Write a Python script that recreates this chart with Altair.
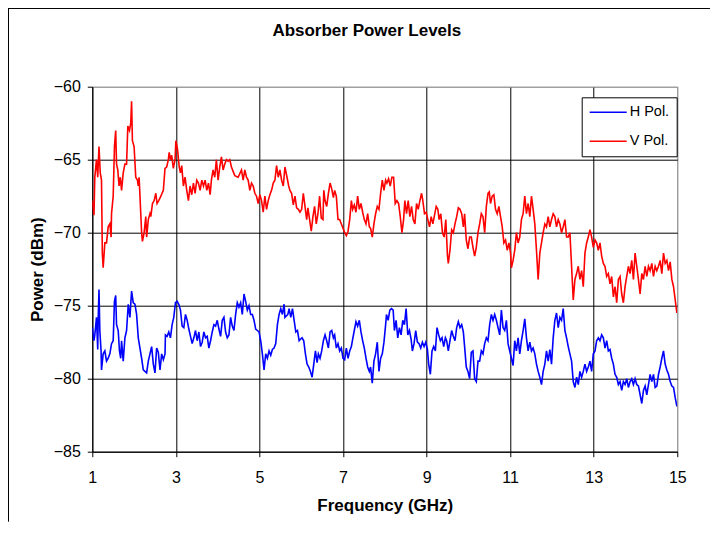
import altair as alt
import pandas as pd

# ---------------- data (frequency GHz, power dBm) ----------------
V_POL_A = [(1.00,-67.8),(1.04,-68.8),(1.06,-66.2),(1.10,-65.0),(1.13,-66.2),(1.16,-64.1),(1.19,-65.9),(1.22,-66.4),(1.24,-71.4),(1.26,-72.4),(1.30,-70.7),(1.34,-70.7),(1.38,-69.6),(1.42,-69.4),(1.45,-70.3),(1.46,-68.7),(1.50,-67.5),(1.53,-64.1),(1.56,-63.0),(1.58,-65.3),(1.61,-65.7),(1.64,-66.8),(1.67,-66.2),(1.70,-67.1),(1.74,-65.9),(1.78,-65.3),(1.82,-65.3),(1.85,-62.7),(1.89,-63.0),(1.92,-62.5),(1.94,-61.0),(1.96,-63.7),(2.00,-64.1),(2.04,-66.2),(2.08,-66.4),(2.10,-66.8),(2.12,-66.2),(2.16,-68.7),(2.18,-70.0),(2.20,-70.6),(2.24,-70.0),(2.28,-68.9),(2.30,-70.3),(2.34,-69.1),(2.38,-68.7),(2.40,-68.9),(2.44,-68.0),(2.48,-67.8),(2.52,-67.3),(2.55,-68.0),(2.59,-67.8),(2.64,-67.5),(2.70,-67.1),(2.74,-65.6),(2.78,-65.5),(2.82,-65.0),(2.84,-64.5),(2.87,-65.0),(2.90,-64.7),(2.94,-65.6),(2.98,-65.0),(3.00,-63.7),(3.04,-64.3),(3.08,-65.5),(3.11,-65.9),(3.14,-65.4),(3.18,-66.8),(3.22,-66.2),(3.26,-67.1),(3.30,-67.8),(3.34,-66.8),(3.38,-67.4),(3.42,-66.6),(3.46,-67.3),(3.50,-66.4),(3.54,-66.6),(3.58,-67.1),(3.62,-66.4),(3.66,-66.8),(3.70,-66.4),(3.74,-67.1),(3.78,-66.6),(3.82,-67.4),(3.85,-66.4),(3.89,-65.7),(3.93,-66.2),(3.97,-65.0),(4.01,-66.4),(4.05,-65.5),(4.09,-64.8),(4.13,-65.7),(4.17,-65.3),(4.21,-65.0),(4.25,-65.1),(4.29,-65.0),(4.33,-65.5),(4.37,-65.8),(4.41,-66.1),(4.49,-66.2),(4.57,-65.7),(4.61,-66.4),(4.65,-65.7),(4.69,-66.2),(4.73,-66.4),(4.77,-67.1),(4.81,-66.6),(4.85,-66.8),(4.89,-67.3),(4.93,-67.5),(4.97,-68.0),(5.01,-67.4),(5.05,-67.8),(5.09,-68.6),(5.13,-67.5),(5.17,-68.4),(5.21,-67.8),(5.25,-67.4),(5.29,-67.1),(5.33,-66.6),(5.37,-66.4),(5.41,-65.4),(5.45,-66.2),(5.49,-65.7),(5.53,-66.4),(5.57,-66.8),(5.61,-65.5)]
V_POL_B = [(5.66,-66.2),(5.70,-66.8),(5.73,-67.1),(5.77,-67.3),(5.81,-68.1),(5.85,-67.5),(5.89,-68.3),(5.93,-68.4),(5.97,-68.6),(6.01,-68.4),(6.05,-67.3),(6.09,-68.2),(6.13,-69.1),(6.16,-68.3),(6.20,-69.1),(6.24,-69.9),(6.28,-68.9),(6.32,-68.2),(6.36,-69.4),(6.40,-68.7),(6.44,-67.5),(6.48,-69.0),(6.52,-69.1),(6.54,-67.1),(6.57,-67.8),(6.61,-68.2),(6.65,-67.3),(6.69,-66.6),(6.73,-67.0),(6.77,-67.6),(6.80,-67.1),(6.84,-67.5),(6.88,-69.1),(6.92,-69.1),(6.96,-69.4),(7.00,-69.7),(7.04,-70.0),(7.08,-70.2),(7.12,-69.9),(7.16,-69.1),(7.20,-67.8),(7.23,-68.4),(7.27,-68.1),(7.31,-68.6),(7.35,-67.5),(7.39,-68.4),(7.43,-68.0),(7.47,-68.6),(7.51,-69.1),(7.55,-69.4),(7.59,-68.7),(7.63,-69.6),(7.66,-69.7),(7.70,-70.3),(7.74,-69.4),(7.78,-68.7),(7.82,-68.2),(7.86,-68.4),(7.90,-67.3),(7.94,-66.4),(7.98,-67.1),(8.02,-66.4),(8.05,-66.6),(8.09,-66.3),(8.13,-66.8),(8.17,-66.2),(8.21,-66.2),(8.25,-68.0),(8.29,-67.8),(8.33,-68.0),(8.37,-68.9),(8.41,-70.0),(8.45,-69.1),(8.48,-67.8),(8.52,-68.7),(8.56,-67.8),(8.60,-68.9),(8.64,-68.2),(8.68,-69.1),(8.72,-69.4),(8.76,-68.0),(8.80,-68.4),(8.84,-67.8),(8.88,-67.3),(8.91,-67.8),(8.95,-68.7),(8.99,-68.6),(9.03,-69.1),(9.07,-69.6),(9.11,-68.9),(9.15,-69.4),(9.19,-68.8),(9.23,-68.2),(9.27,-68.4),(9.30,-69.1),(9.34,-68.7),(9.38,-70.0),(9.42,-70.3),(9.46,-69.1),(9.50,-71.6),(9.52,-72.1),(9.56,-71.2),(9.60,-69.8),(9.64,-70.0),(9.68,-69.4),(9.72,-68.9),(9.76,-68.3),(9.80,-68.4),(9.84,-68.7),(9.88,-69.6),(9.91,-68.7),(9.95,-70.5),(9.99,-71.1),(10.03,-70.3),(10.07,-70.3),(10.11,-71.0),(10.15,-71.6),(10.19,-71.0),(10.23,-70.0)]
V_POL_C = [(10.27,-69.4),(10.31,-68.7),(10.35,-68.9),(10.39,-70.0),(10.43,-68.2),(10.47,-67.3),(10.50,-67.2),(10.53,-68.0),(10.57,-67.5),(10.61,-67.4),(10.65,-68.4),(10.69,-68.7),(10.73,-68.2),(10.77,-68.9),(10.81,-69.6),(10.85,-70.7),(10.89,-70.5),(10.93,-71.2),(10.97,-70.7),(11.01,-71.4),(11.03,-72.4),(11.07,-71.9),(11.11,-71.2),(11.15,-70.0),(11.19,-70.7),(11.23,-70.3),(11.27,-69.1),(11.31,-68.7),(11.35,-67.5),(11.39,-68.7),(11.43,-68.0),(11.47,-68.9),(11.51,-67.5),(11.55,-68.4),(11.59,-69.4),(11.63,-71.2),(11.67,-73.2),(11.71,-71.4),(11.75,-70.7),(11.79,-70.0),(11.83,-69.4),(11.87,-69.6),(11.91,-68.9),(11.95,-69.6),(11.99,-69.1),(12.03,-68.7),(12.07,-68.9),(12.11,-69.6),(12.15,-69.1),(12.19,-69.4),(12.23,-70.0),(12.27,-69.6),(12.31,-69.1),(12.35,-70.3),(12.39,-70.3),(12.43,-70.0),(12.47,-72.3),(12.51,-74.6),(12.55,-73.2),(12.59,-72.8),(12.63,-72.3),(12.67,-73.2),(12.71,-72.6),(12.75,-73.7),(12.79,-71.4),(12.83,-70.7),(12.87,-70.3),(12.91,-69.8),(12.95,-70.3),(12.99,-71.0),(13.03,-70.5),(13.07,-70.7),(13.11,-71.2),(13.15,-70.7),(13.19,-71.6),(13.23,-72.1),(13.27,-72.3),(13.31,-73.0),(13.35,-72.8),(13.39,-73.5),(13.43,-73.0),(13.47,-74.4),(13.51,-73.7),(13.55,-74.8),(13.59,-73.2),(13.63,-73.0),(13.67,-74.2),(13.71,-74.8),(13.75,-73.7),(13.79,-73.0),(13.83,-72.3),(13.87,-72.8),(13.91,-71.9),(13.95,-73.2),(13.99,-71.4),(14.03,-72.3),(14.07,-73.2),(14.11,-74.2),(14.15,-72.8),(14.19,-73.2),(14.23,-72.3),(14.27,-73.0),(14.31,-72.3),(14.35,-72.6),(14.39,-72.1),(14.43,-73.0),(14.47,-72.3),(14.51,-72.6),(14.55,-72.3),(14.59,-71.9),(14.63,-72.8),(14.67,-71.4),(14.71,-72.1),(14.75,-71.9),(14.79,-72.6),(14.83,-72.0),(14.87,-73.2),(14.91,-73.7),(14.95,-74.6),(14.99,-75.5)]

H_POL_A = [(1.00,-76.5),(1.04,-77.4),(1.06,-77.0),(1.10,-75.8),(1.13,-78.0),(1.14,-76.0),(1.16,-73.9),(1.18,-76.7),(1.21,-78.1),(1.22,-79.4),(1.26,-78.3),(1.30,-78.1),(1.34,-78.8),(1.38,-78.6),(1.42,-78.3),(1.46,-77.6),(1.50,-77.4),(1.53,-74.7),(1.56,-74.3),(1.58,-76.3),(1.62,-76.7),(1.65,-78.1),(1.68,-78.6),(1.70,-77.4),(1.74,-78.8),(1.78,-77.2),(1.82,-76.7),(1.86,-74.9),(1.90,-75.8),(1.94,-74.0),(1.98,-74.8),(2.02,-74.9),(2.06,-75.6),(2.10,-77.2),(2.14,-77.9),(2.18,-78.6),(2.22,-79.4),(2.26,-79.5),(2.30,-79.6),(2.34,-78.8),(2.38,-78.3),(2.42,-77.8),(2.46,-79.0),(2.50,-79.6),(2.54,-77.9),(2.58,-78.2),(2.62,-79.4),(2.66,-78.3),(2.70,-78.7),(2.74,-78.3),(2.75,-77.0),(2.79,-77.1),(2.83,-76.8),(2.87,-77.2),(2.91,-76.3),(2.95,-75.8),(2.99,-74.8),(3.03,-74.7),(3.07,-74.9),(3.11,-75.3),(3.15,-76.4),(3.19,-76.5),(3.23,-75.6),(3.27,-76.0),(3.31,-76.6),(3.35,-77.1),(3.39,-77.6),(3.43,-77.2),(3.47,-76.7),(3.51,-77.4),(3.55,-76.8),(3.59,-77.8),(3.63,-77.5),(3.67,-76.8),(3.71,-77.2),(3.75,-77.1),(3.79,-77.9),(3.83,-77.4),(3.87,-76.8),(3.91,-76.3),(3.95,-76.4),(3.99,-76.0),(4.03,-76.6),(4.07,-77.1),(4.11,-76.0),(4.15,-75.8),(4.19,-76.8),(4.23,-77.2),(4.27,-77.0),(4.31,-75.8),(4.35,-76.4),(4.39,-76.7),(4.43,-75.6),(4.47,-74.8),(4.51,-75.1),(4.55,-74.8),(4.59,-75.6),(4.63,-74.2),(4.67,-74.7),(4.71,-75.3),(4.75,-75.0),(4.79,-75.6),(4.83,-75.6),(4.87,-76.0),(4.91,-76.6),(4.95,-76.7),(4.99,-76.8),(5.03,-77.4),(5.07,-78.3),(5.11,-79.4),(5.15,-78.3),(5.19,-78.6),(5.23,-78.1),(5.27,-78.4),(5.31,-78.0),(5.35,-77.9),(5.39,-77.6),(5.43,-76.3),(5.47,-75.6),(5.51,-75.2),(5.55,-75.6),(5.59,-74.9),(5.61,-75.8)]
H_POL_B = [(5.68,-75.6),(5.71,-75.2),(5.75,-75.8),(5.79,-75.2),(5.83,-76.0),(5.87,-76.8),(5.91,-76.7),(5.95,-77.4),(5.98,-77.3),(6.02,-77.2),(6.06,-77.4),(6.10,-78.3),(6.14,-79.0),(6.18,-79.2),(6.22,-79.5),(6.26,-79.9),(6.30,-79.0),(6.34,-78.1),(6.38,-78.9),(6.41,-78.3),(6.45,-78.6),(6.49,-78.1),(6.53,-77.4),(6.57,-77.0),(6.61,-77.4),(6.65,-77.9),(6.69,-76.8),(6.73,-76.7),(6.77,-77.2),(6.80,-77.0),(6.84,-77.9),(6.88,-77.6),(6.92,-78.1),(6.96,-77.9),(7.00,-78.6),(7.04,-78.7),(7.08,-77.9),(7.12,-78.6),(7.16,-78.1),(7.20,-77.8),(7.23,-77.3),(7.27,-76.7),(7.31,-76.1),(7.35,-76.4),(7.39,-76.0),(7.43,-76.8),(7.47,-77.4),(7.51,-77.9),(7.55,-78.6),(7.59,-79.2),(7.63,-79.5),(7.66,-79.2),(7.70,-80.3),(7.74,-78.8),(7.78,-78.3),(7.82,-77.5),(7.86,-79.5),(7.90,-78.6),(7.94,-78.3),(7.98,-77.5),(8.02,-76.3),(8.04,-75.6),(8.08,-76.0),(8.12,-75.3),(8.16,-75.2),(8.20,-75.3),(8.23,-76.7),(8.27,-76.0),(8.31,-77.2),(8.35,-76.5),(8.39,-77.0),(8.43,-76.0),(8.47,-76.3),(8.51,-75.2),(8.55,-77.0),(8.59,-76.7),(8.63,-77.3),(8.66,-78.1),(8.70,-77.6),(8.74,-76.7),(8.78,-77.5),(8.82,-77.6),(8.86,-77.9),(8.90,-77.5),(8.94,-77.8),(8.98,-77.5),(9.02,-78.0),(9.05,-79.0),(9.09,-79.7),(9.13,-78.1),(9.17,-77.8),(9.21,-78.1),(9.25,-76.5),(9.29,-77.0),(9.33,-77.4),(9.37,-77.2),(9.41,-77.8),(9.45,-77.2),(9.48,-77.4),(9.52,-78.1),(9.56,-77.4),(9.60,-76.7),(9.64,-77.1),(9.68,-77.4),(9.72,-76.5),(9.76,-76.1),(9.80,-76.5),(9.84,-76.3),(9.88,-76.8),(9.91,-77.8),(9.95,-79.2),(9.99,-79.5),(10.03,-80.0),(10.07,-78.2),(10.11,-78.1),(10.15,-80.0),(10.19,-80.2),(10.23,-78.8)]
H_POL_C = [(10.27,-78.8),(10.31,-78.1),(10.35,-78.3),(10.39,-77.6),(10.43,-77.2),(10.47,-77.4),(10.51,-76.3),(10.55,-75.6),(10.59,-76.0),(10.63,-75.6),(10.67,-76.0),(10.71,-76.5),(10.75,-77.0),(10.79,-75.3),(10.83,-76.5),(10.87,-76.7),(10.91,-76.0),(10.95,-77.6),(10.99,-78.1),(11.03,-78.6),(11.07,-79.1),(11.11,-77.4),(11.15,-78.1),(11.19,-77.2),(11.23,-78.3),(11.27,-77.4),(11.31,-76.7),(11.35,-75.9),(11.39,-77.2),(11.43,-78.1),(11.47,-77.5),(11.51,-78.1),(11.55,-77.9),(11.59,-78.3),(11.63,-79.0),(11.67,-79.5),(11.71,-79.9),(11.75,-80.4),(11.79,-79.5),(11.83,-79.0),(11.87,-78.1),(11.91,-78.8),(11.95,-78.0),(11.99,-79.0),(12.03,-77.2),(12.07,-76.0),(12.11,-75.5),(12.15,-76.5),(12.19,-75.8),(12.23,-76.0),(12.27,-75.2),(12.31,-76.7),(12.35,-77.2),(12.39,-77.8),(12.43,-78.3),(12.47,-78.8),(12.51,-80.2),(12.55,-80.6),(12.59,-79.9),(12.63,-80.4),(12.67,-79.5),(12.71,-79.9),(12.75,-79.5),(12.79,-79.0),(12.83,-79.5),(12.87,-79.2),(12.91,-78.8),(12.95,-79.5),(12.99,-78.3),(13.03,-78.1),(13.07,-77.4),(13.11,-77.2),(13.15,-77.4),(13.19,-77.0),(13.23,-77.2),(13.27,-77.9),(13.31,-77.4),(13.35,-78.1),(13.39,-78.0),(13.43,-78.6),(13.47,-79.0),(13.51,-79.7),(13.55,-79.9),(13.59,-80.4),(13.63,-80.2),(13.67,-80.8),(13.71,-80.2),(13.75,-80.4),(13.79,-80.0),(13.83,-80.6),(13.87,-80.2),(13.91,-80.0),(13.95,-80.4),(13.99,-80.0),(14.03,-80.4),(14.07,-80.5),(14.11,-81.1),(14.15,-81.7),(14.19,-80.8),(14.23,-80.5),(14.27,-81.1),(14.31,-80.4),(14.35,-79.7),(14.39,-80.2),(14.43,-79.7),(14.47,-80.6),(14.51,-80.5),(14.55,-79.7),(14.59,-79.2),(14.63,-78.6),(14.67,-78.1),(14.71,-79.0),(14.75,-79.4),(14.79,-79.7),(14.83,-80.2),(14.87,-80.5),(14.91,-80.6),(14.95,-81.3),(14.99,-81.9)]

SERIES = ["H Pol.", "V Pol."]
COLORS = ["#0000FF", "#FF0000"]
X_TICKS = [1, 3, 5, 7, 9, 11, 13, 15]
Y_TICKS = [-85, -80, -75, -70, -65, -60]

rows = []
for name, segs in ((SERIES[0], [H_POL_A, H_POL_B, H_POL_C]),
                   (SERIES[1], [V_POL_A, V_POL_B, V_POL_C])):
    for seg in segs:
        for f, v in seg:
            rows.append({"freq": f, "dbm": v, "series": name})
df = pd.DataFrame(rows)

FONT = "Liberation Sans"
W, H = 585, 365
PAD_L, PAD_T, PAD_R, PAD_B = 84.3, 78.7, 32.7, 70

x_axis = alt.Axis(
    values=X_TICKS, title="Frequency (GHz)", labelFont=FONT, labelFontSize=16,
    labelColor="black", tickColor="black", tickSize=5, labelPadding=13,
    domainColor="black", domainWidth=1, gridColor={"condition": {"test": "datum.value == 15", "value": "#808080"}, "value": "black"},
    gridWidth=1, gridOpacity=1, titleFont=FONT, titleFontSize=17, titleFontWeight="bold",
    titleColor="black", titleX=W / 2, titleY=54.3, titleBaseline="middle", titleAlign="center",
    labelFlush=False, labelOverlap=False,
)
y_axis = alt.Axis(
    values=Y_TICKS, title="Power (dBm)", labelFont=FONT, labelFontSize=16,
    labelColor="black", tickColor="black", tickSize=5, labelPadding=7,
    domainColor="black", domainWidth=1, gridColor={"condition": {"test": "datum.value == -60", "value": "#808080"}, "value": "black"},
    gridWidth=1, gridOpacity=1, titleFont=FONT, titleFontSize=17, titleFontWeight="bold",
    titleColor="black", titleX=-55.3, titleY=H / 2, titleAngle=270, titleBaseline="middle",
    titleAlign="center", labelFlush=False, labelOverlap=False,
)

lines = alt.Chart(df).mark_line(strokeWidth=1.6, clip=True).encode(
    x=alt.X("freq:Q", scale=alt.Scale(domain=[1, 15], nice=False, zero=False), axis=x_axis),
    y=alt.Y("dbm:Q", scale=alt.Scale(domain=[-85, -60], nice=False, zero=False), axis=y_axis),
    color=alt.Color("series:N", scale=alt.Scale(domain=SERIES, range=COLORS),
                    legend=alt.Legend(title=None, orient="none", legendX=489.4, legendY=10.6,
                                      fillColor="white", strokeColor="black", padding=7,
                                      symbolType="stroke", symbolSize=1369, symbolStrokeWidth=1.5,
                                      clipHeight=16,
                                      labelFont=FONT, labelFontSize=14.5, labelColor="black",
                                      labelOffset=2, rowPadding=13)),
)

frame = pd.DataFrame({"k": [0]})
left_border = alt.Chart(frame).mark_rule(color="black", strokeWidth=1).encode(
    x=alt.value(-PAD_L + 0.5), y=alt.value(-PAD_T + 0.5), y2=alt.value(H + PAD_B))
top_border = alt.Chart(frame).mark_rule(color="black", strokeWidth=1).encode(
    x=alt.value(-PAD_L), x2=alt.value(W + PAD_R), y=alt.value(-PAD_T + 0.5))

chart = alt.layer(left_border, top_border, lines).properties(
    width=W, height=H,
    autosize=alt.AutoSizeParams(type="none"),
    padding={"left": PAD_L, "top": PAD_T, "right": PAD_R, "bottom": PAD_B},
    title=alt.Title("Absorber Power Levels", font=FONT, fontSize=17, fontWeight="bold",
                    color="black", anchor="middle", frame="group", offset=0,
                    baseline="middle", dx=-18, dy=40),
).configure_view(
    fill="#C0C0C0", stroke="#808080", strokeWidth=1.5
).configure(background="white")

chart.save("out.html", embed_options={"renderer": "svg", "actions": False})
